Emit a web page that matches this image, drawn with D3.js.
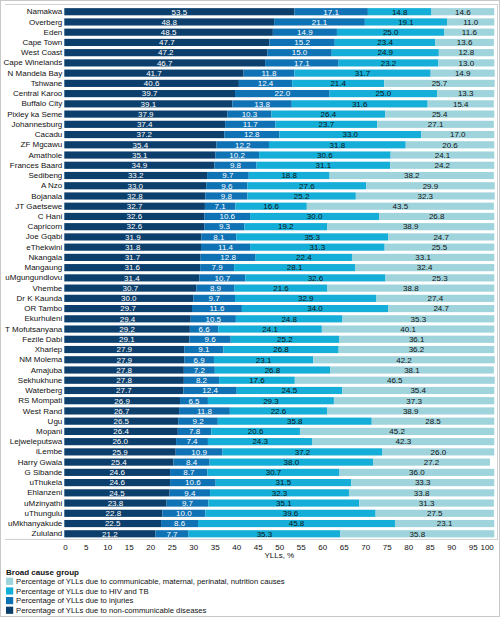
<!DOCTYPE html>
<html>
<head>
<meta charset="utf-8">
<script src="https://cdn.jsdelivr.net/npm/d3@7"></script>
<style>
  html, body { margin: 0; padding: 0; background: #fff; }
  svg { display: block; font-family: "Liberation Sans", Arial, sans-serif; }
</style>
</head>
<body>
<svg id="chart" width="500" height="617"></svg>
<script>
const districts = ["Namakwa","Overberg","Eden","Cape Town","West Coast","Cape Winelands","N Mandela Bay","Tshwane","Central Karoo","Buffalo City","Pixley ka Seme","Johannesburg","Cacadu","ZF Mgcawu","Amathole","Frances Baard","Sedibeng","A Nzo","Bojanala","JT Gaetsewe","C Hani","Capricorn","Joe Gqabi","eThekwini","Nkangala","Mangaung","uMgungundlovu","Vhembe","Dr K Kaunda","OR Tambo","Ekurhuleni","T Mofutsanyana","Fezile Dabi","Xhariep","NM Molema","Amajuba","Sekhukhune","Waterberg","RS Mompati","West Rand","Ugu","Mopani","Lejweleputswa","iLembe","Harry Gwala","G Sibande","uThukela","Ehlanzeni","uMzinyathi","uThungulu","uMkhanyakude","Zululand"];

const ncd = [53.5,48.8,48.5,47.7,47.2,46.7,41.7,40.6,39.7,39.1,37.9,37.4,37.2,35.4,35.1,34.9,33.2,33.0,32.8,32.7,32.6,32.6,31.9,31.8,31.7,31.6,31.4,30.7,30.0,29.7,29.4,29.2,29.1,27.9,27.9,27.8,27.8,27.7,26.9,26.7,26.5,26.4,26.0,25.9,25.4,24.6,24.6,24.5,23.8,22.8,22.5,21.2];
const injuries = [17.1,21.1,14.9,15.2,15.0,17.1,11.8,12.4,22.0,13.8,10.3,11.7,12.8,12.2,10.2,9.8,9.7,9.6,9.8,7.1,10.6,9.3,8.1,11.4,12.8,7.9,10.7,8.9,9.7,11.6,10.5,6.6,9.6,9.1,6.9,7.2,8.2,12.4,6.5,11.8,9.2,7.8,7.4,10.9,8.4,8.7,10.6,9.4,9.7,10.0,8.6,7.7];
const hivtb = [14.8,19.1,25.0,23.4,24.9,23.2,31.7,21.4,25.0,31.6,26.4,23.7,33.0,31.8,30.6,31.1,18.8,27.6,25.2,16.6,30.0,19.2,35.3,31.3,22.4,28.1,32.6,21.6,32.9,34.0,24.8,24.1,25.2,26.8,23.1,26.8,17.6,24.5,29.3,22.6,35.8,20.6,24.3,37.2,38.0,30.7,31.5,32.3,35.1,39.6,45.8,35.3];
const communicable = [14.6,11.0,11.6,13.6,12.8,13.0,14.9,25.7,13.3,15.4,25.4,27.1,17.0,20.6,24.1,24.2,38.2,29.9,32.3,43.5,26.8,38.9,24.7,25.5,33.1,32.4,25.3,38.8,27.4,24.7,35.3,40.1,36.1,36.2,42.2,38.1,46.5,35.4,37.3,38.9,28.5,45.2,42.3,26.0,27.2,36.0,33.3,33.8,31.3,27.5,23.1,35.8];

const xTicks = [0,5,10,15,20,25,30,35,40,45,50,55,60,65,70,75,80,85,90,95,100];
const seriesKeys = ["ncd","injuries","hivtb","communicable"];
const seriesNames = {
  communicable: "Percentage of YLLs due to communicable, maternal, perinatal, nutrition causes",
  hivtb: "Percentage of YLLs due to HIV and TB",
  injuries: "Percentage of YLLs due to injuries",
  ncd: "Percentage of YLLs due to non-communicable diseases"
};
const legendOrder = ["communicable","hivtb","injuries","ncd"];
const colors = { ncd: "#0d3f6c", injuries: "#0f72b4", hivtb: "#14aed8", communicable: "#a0d4dc" };
const textColors = { ncd: "#ffffff", injuries: "#ffffff", hivtb: "#111111", communicable: "#111111" };

const rows = districts.map((d, i) => ({ name: d, ncd: ncd[i], injuries: injuries[i], hivtb: hivtb[i], communicable: communicable[i] }));
const stacked = d3.stack().keys(seriesKeys)(rows);

const svg = d3.select("#chart");
const W = 500, H = 617;

// outer frame
svg.append("rect").attr("x", 0.5).attr("y", 0.5).attr("width", W - 1).attr("height", H - 1)
  .attr("fill", "none").attr("stroke", "#c8c8c8");

const x = d3.scaleLinear().domain([0, 100]).range([64.3, 494.3]);
const y = d3.scaleBand().domain(districts).range([6.6, 538.9]).paddingInner(0.3).paddingOuter(0.15);

// plot region frame lines
svg.append("line").attr("x1", 5).attr("x2", 498).attr("y1", 4.5).attr("y2", 4.5).attr("stroke", "#d0d0d0");
svg.append("line").attr("x1", 497.5).attr("x2", 497.5).attr("y1", 4.5).attr("y2", 539.4).attr("stroke", "#d0d0d0");

const g = svg.append("g");
const layers = g.selectAll("g.layer").data(stacked).join("g").attr("class", "layer")
  .attr("fill", d => colors[d.key]);

layers.selectAll("rect").data(d => d).join("rect")
  .attr("x", d => x(d[0]))
  .attr("width", d => x(d[1]) - x(d[0]))
  .attr("y", d => y(d.data.name))
  .attr("height", y.bandwidth());

// value labels
stacked.forEach(layer => {
  g.append("g").selectAll("text").data(layer).join("text")
    .attr("x", d => (x(d[0]) + x(d[1])) / 2)
    .attr("y", d => y(d.data.name) + y.bandwidth() / 2)
    .attr("dy", "0.35em")
    .attr("text-anchor", "middle")
    .attr("font-size", 8)
    .attr("fill", textColors[layer.key])
    .text(d => d.data[layer.key].toFixed(1));
});

// category labels
const yAxis = d3.axisLeft(y).tickSize(0).tickPadding(2);
const ya = svg.append("g").attr("transform", `translate(${x(0)},0)`).call(yAxis);
ya.select(".domain").remove();
ya.selectAll("text").attr("font-size", 8).attr("fill", "#111").attr("font-family", "Liberation Sans, Arial, sans-serif");

// x axis
const xAxis = d3.axisBottom(x).tickValues(xTicks).tickSize(0).tickPadding(5).tickFormat(d3.format("d"));
const xa = svg.append("g").attr("transform", `translate(0,${y.range()[1]})`).call(xAxis);
xa.select(".domain").attr("stroke", "#d0d0d0").attr("d", `M5,0.5H498`);
xa.selectAll("text").attr("font-size", 8).attr("fill", "#111").attr("font-family", "Liberation Sans, Arial, sans-serif");
xa.selectAll(".tick").filter(d => d === 0).select("text").attr("text-anchor", "start").attr("dx", -1.5);
xa.selectAll(".tick").filter(d => d === 100).select("text").attr("text-anchor", "end").attr("dx", -1);

svg.append("text").attr("x", (x(0) + x(100)) / 2).attr("y", 558).attr("text-anchor", "middle")
  .attr("font-size", 8).attr("fill", "#111").text("YLLs, %");

// legend
const lg = svg.append("g");
lg.append("text").attr("x", 6).attr("y", 575).attr("font-size", 8).attr("font-weight", "bold").attr("fill", "#111").text("Broad cause group");
const items = lg.selectAll("g.item").data(legendOrder).join("g").attr("class", "item")
  .attr("transform", (d, i) => `translate(6,${581.3 + i * 9.65})`);
items.append("rect").attr("x", 0).attr("y", -3.6).attr("width", 7.2).attr("height", 7.2).attr("fill", d => colors[d]);
items.append("text").attr("x", 10).attr("y", 0).attr("dy", "0.35em").attr("font-size", 7.7).attr("fill", "#111").text(d => seriesNames[d]);
</script>
</body>
</html>
